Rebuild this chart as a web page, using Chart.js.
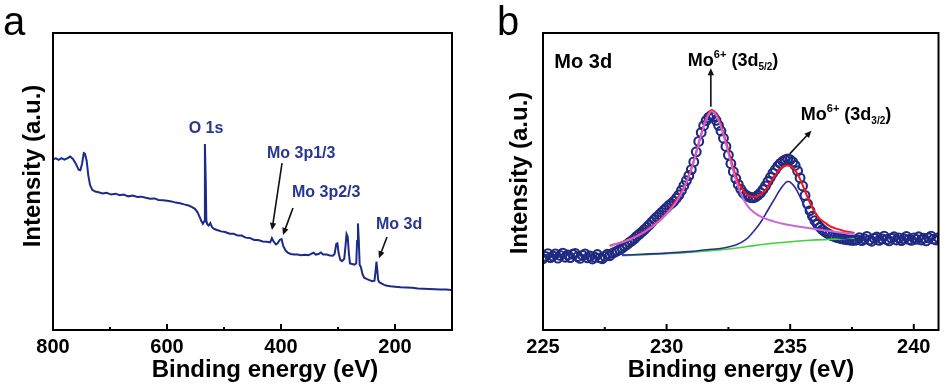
<!DOCTYPE html>
<html>
<head>
<meta charset="utf-8">
<script src="https://cdn.jsdelivr.net/npm/chart.js@4.4.0/dist/chart.umd.min.js"></script>
<style>
  html, body { margin: 0; padding: 0; background: #fff; }
  #wrap { position: relative; width: 945px; height: 387px; overflow: hidden; }
  canvas { position: absolute; top: 0; }
  #chartA { left: 0; }
  #chartB { left: 475px; }
</style>
</head>
<body>
<div id="wrap">
  <canvas id="chartA" width="475" height="387"></canvas>
  <canvas id="chartB" width="470" height="387"></canvas>
</div>
<script>
// ---- panel a : survey spectrum ----
const surveyTicks = [800, 700, 600, 500, 400, 300, 200];
const surveyEnergy = [
  800, 795, 790, 785, 780, 775, 770, 765, 760, 755, 752, 749, 746, 744, 741, 738, 735, 731, 726, 720,
  713, 706, 698, 690, 683, 676, 668, 660, 652, 645, 637, 630, 622, 615, 607, 600, 592, 585, 577, 570,
  562, 556, 551, 547, 543, 540, 537, 535, 533.5, 532, 531, 529.5, 527, 524, 521, 517, 511, 505, 498, 490,
  483, 476, 469, 462, 455, 447, 440, 432, 425, 419, 416, 413, 409, 406, 402, 399, 396, 392, 388, 383,
  377, 371, 365, 358, 352, 347, 343, 339, 334, 330, 326, 320, 314, 309, 306, 303, 301, 299, 296, 293,
  289, 287, 285, 283, 281, 279, 275, 271, 268, 266.5, 265, 263.5, 262, 260, 257, 254, 250, 245, 240, 236,
  234, 232.5, 231, 229.5, 227, 223, 219, 214, 208, 200, 190, 180, 170, 160, 150, 140, 130, 120, 110, 101
];
const surveyIntensity = [
  57.5, 57.8, 57.3, 57.9, 57.4, 57.8, 58.4, 57.6, 56.0, 54.0, 53.8, 56.0, 59.6, 59.4, 57.0, 52.0, 48.8, 47.2, 46.6, 46.4,
  46.0, 46.2, 45.6, 45.9, 45.4, 45.6, 45.0, 45.3, 44.8, 44.9, 44.5, 44.2, 44.3, 43.8, 43.7, 43.5, 43.3, 42.9, 42.7, 42.3,
  41.9, 41.4, 40.8, 39.8, 38.2, 36.8, 35.8, 36.5, 62.6, 50.0, 37.0, 35.6, 35.2, 36.0, 34.6, 34.0, 33.6, 33.2, 33.0, 32.4,
  32.4, 31.8, 31.8, 31.1, 31.0, 30.3, 30.3, 29.8, 29.7, 29.5, 30.9, 29.8, 28.8, 29.2, 30.4, 30.6, 28.2, 26.8, 26.0, 25.6,
  25.4, 25.4, 25.2, 25.3, 25.2, 25.6, 26.0, 25.4, 25.6, 26.1, 25.4, 25.4, 25.1, 25.0, 25.6, 29.0, 29.2, 26.0, 23.6, 23.2,
  24.0, 28.0, 32.3, 31.4, 26.0, 22.4, 22.2, 22.0, 22.5, 30.0, 35.9, 30.0, 22.0, 21.3, 18.8, 17.6, 17.2, 16.8, 16.4, 16.6,
  20.0, 23.0, 20.0, 16.8, 16.0, 15.6, 15.2, 14.9, 14.7, 14.6, 14.4, 14.3, 14.2, 14.0, 13.9, 13.8, 13.7, 13.6, 13.6, 13.5
];

// ---- panel b : Mo 3d high-resolution ----
const moTicks = [225, 227.5, 230, 232.5, 235, 237.5, 240];
const moEnergy = [
  225.0, 225.1, 225.2, 225.3, 225.4, 225.5, 225.6, 225.7, 225.8, 225.9,
  226.0, 226.1, 226.2, 226.3, 226.4, 226.5, 226.6, 226.7, 226.8, 226.9,
  227.0, 227.1, 227.2, 227.3, 227.4, 227.5, 227.6, 227.7, 227.8, 227.9,
  228.0, 228.1, 228.2, 228.3, 228.4, 228.5, 228.6, 228.7, 228.8, 228.9,
  229.0, 229.1, 229.2, 229.3, 229.4, 229.5, 229.6, 229.7, 229.8, 229.9,
  230.0, 230.1, 230.2, 230.3, 230.4, 230.5, 230.6, 230.7, 230.8, 230.9,
  231.0, 231.1, 231.2, 231.3, 231.4, 231.5, 231.6, 231.7, 231.8, 231.9,
  232.0, 232.1, 232.2, 232.3, 232.4, 232.5, 232.6, 232.7, 232.8, 232.9,
  233.0, 233.1, 233.2, 233.3, 233.4, 233.5, 233.6, 233.7, 233.8, 233.9,
  234.0, 234.1, 234.2, 234.3, 234.4, 234.5, 234.6, 234.7, 234.8, 234.9,
  235.0, 235.1, 235.2, 235.3, 235.4, 235.5, 235.6, 235.7, 235.8, 235.9,
  236.0, 236.1, 236.2, 236.3, 236.4, 236.5, 236.6, 236.7, 236.8, 236.9,
  237.0, 237.1, 237.2, 237.3, 237.4, 237.5, 237.6, 237.7, 237.8, 237.9,
  238.0, 238.1, 238.2, 238.3, 238.4, 238.5, 238.6, 238.7, 238.8, 238.9,
  239.0, 239.1, 239.2, 239.3, 239.4, 239.5, 239.6, 239.7, 239.8, 239.9,
  240.0, 240.1, 240.2, 240.3, 240.4, 240.5, 240.6, 240.7, 240.8, 240.9,
  241.0
];
const moIntensity = [
  24.0, 24.8, 25.7, 24.4, 24.9, 25.6, 24.2, 25.1, 25.9, 24.5,
  25.3, 24.4, 25.5, 25.8, 24.7, 24.1, 25.1, 25.6, 24.3, 24.9,
  23.9, 24.5, 25.4, 24.3, 24.0, 24.8, 25.5, 25.0, 25.8, 26.2,
  26.6, 27.0, 27.6, 28.2, 28.8, 29.5, 30.1, 30.8, 31.6, 32.3,
  33.0, 33.8, 34.6, 35.4, 36.3, 37.2, 38.0, 38.8, 39.6, 40.4,
  41.2, 42.0, 42.6, 43.4, 44.4, 45.5, 47.0, 48.6, 50.3, 52.0,
  54.0, 56.6, 60.0, 63.5, 66.5, 68.8, 70.5, 71.6, 72.2, 71.8,
  70.6, 68.9, 67.0, 64.6, 61.8, 58.9, 56.0, 53.3, 51.0, 49.0,
  47.4, 46.2, 45.4, 45.0, 44.6, 44.5, 44.8, 45.4, 46.2, 47.3,
  48.5, 50.0, 51.4, 52.8, 54.0, 55.2, 56.1, 56.8, 57.3, 57.6,
  57.3, 56.6, 55.4, 53.6, 51.2, 48.5, 45.3, 42.5, 40.2, 38.3,
  36.8, 35.6, 34.6, 33.8, 33.1, 32.6, 32.1, 31.7, 31.4, 31.1,
  30.9, 30.7, 30.5, 30.4, 30.3, 30.2, 30.2, 30.4, 31.1, 30.1,
  30.7, 31.5, 30.3, 29.9, 30.9, 31.3, 30.2, 30.7, 31.6, 30.5,
  30.0, 30.9, 31.4, 30.3, 31.0, 30.1, 30.7, 31.5, 30.5, 30.2,
  31.0, 30.5, 31.4, 30.3, 30.9, 30.0, 31.0, 31.6, 30.6, 30.3,
  31.1
];

// fitted components
const fit52Energy = [227.7, 228.0, 228.3, 228.6, 228.9, 229.2, 229.5, 229.8, 230.1, 230.4, 230.7, 231.0, 231.2, 231.4, 231.6, 231.75, 231.85, 232.0, 232.2, 232.4, 232.6, 232.8, 233.0, 233.2, 233.4, 233.7, 234.0, 234.4, 234.8, 235.2, 235.6, 236.0, 236.4, 236.8, 237.2, 237.6];
const fit52Value  = [28.3, 29.0, 29.8, 30.8, 32.0, 33.5, 35.3, 37.4, 40.0, 43.2, 47.6, 54.0, 59.6, 65.6, 70.8, 73.2, 73.6, 72.4, 68.4, 62.6, 56.4, 50.6, 46.0, 42.7, 40.6, 38.7, 37.5, 36.4, 35.6, 35.0, 34.5, 34.0, 33.5, 33.1, 32.7, 32.4];

const envelopeEnergy = [227.7, 228.3, 228.9, 229.5, 230.1, 230.7, 231.0, 231.2, 231.4, 231.6, 231.75, 231.85, 232.0, 232.2, 232.4, 232.6, 232.8, 233.0, 233.2, 233.4, 233.6, 233.8, 234.0, 234.2, 234.4, 234.6, 234.8, 234.9, 235.0, 235.2, 235.4, 235.6, 235.8, 236.0, 236.2, 236.4, 236.6, 236.8, 237.0, 237.2, 237.4, 237.6];
const envelopeValue  = [28.4, 29.9, 32.2, 35.6, 40.4, 48.0, 54.4, 60.0, 66.0, 71.2, 73.6, 74.0, 72.9, 69.0, 63.4, 57.4, 52.0, 48.2, 46.0, 45.0, 44.9, 45.6, 47.2, 49.6, 52.2, 54.2, 55.3, 55.4, 55.2, 53.8, 50.8, 46.8, 42.8, 39.6, 37.4, 36.2, 35.0, 34.3, 33.8, 33.3, 33.0, 32.7];

const fit32Energy = [228.2, 229.0, 230.0, 230.9, 231.6, 232.3, 232.8, 233.2, 233.5, 233.8, 234.1, 234.4, 234.6, 234.8, 234.9, 235.0, 235.2, 235.4, 235.6, 235.8, 236.0, 236.2, 236.5, 236.8, 237.2, 237.6];
const fit32Value  = [25.2, 25.5, 25.9, 26.4, 27.0, 27.6, 28.6, 30.4, 33.0, 36.2, 40.4, 44.6, 47.4, 49.5, 50.0, 49.8, 48.0, 44.8, 41.2, 37.8, 35.2, 33.6, 32.2, 31.4, 30.7, 30.4];

const bgEnergy = [228.2, 229.0, 230.0, 231.0, 232.0, 233.0, 233.6, 234.2, 235.0, 235.8, 236.6, 237.6];
const bgValue  = [25.0, 25.3, 25.7, 26.2, 26.9, 27.8, 28.5, 29.1, 29.7, 30.2, 30.5, 30.8];

const FONT = 'Arial, "Liberation Sans", Helvetica, sans-serif';

function pairs(xs, ys) {
  return xs.map((x, i) => ({ x: x, y: ys[i] }));
}

function arrow(ctx, x1, y1, x2, y2) {
  const a = Math.atan2(y2 - y1, x2 - x1);
  const head = 7, half = 3.2;
  ctx.beginPath();
  ctx.moveTo(x1, y1);
  ctx.lineTo(x2 - Math.cos(a) * head * 0.7, y2 - Math.sin(a) * head * 0.7);
  ctx.stroke();
  ctx.beginPath();
  ctx.moveTo(x2, y2);
  ctx.lineTo(x2 - head * Math.cos(a) + half * Math.sin(a), y2 - head * Math.sin(a) - half * Math.cos(a));
  ctx.lineTo(x2 - head * Math.cos(a) - half * Math.sin(a), y2 - head * Math.sin(a) + half * Math.cos(a));
  ctx.closePath();
  ctx.fill();
}

// parts: [text, fontSize, yOffset]
function richText(ctx, x, y, parts) {
  ctx.textAlign = 'left';
  ctx.textBaseline = 'alphabetic';
  parts.forEach(p => {
    ctx.font = 'bold ' + p[1] + 'px ' + FONT;
    ctx.fillText(p[0], x, y + p[2]);
    x += ctx.measureText(p[0]).width;
  });
}

// frame, inner ticks, axis titles, panel letter, labels and arrows
const decor = {
  id: 'decor',
  afterDraw(chart, args, opts) {
    const { ctx, chartArea: ca, scales: { x, y } } = chart;
    ctx.save();
    ctx.strokeStyle = '#000';
    ctx.lineWidth = 2;
    x.ticks.forEach(t => {
      if (t.value === x.min || t.value === x.max) return;
      const px = x.getPixelForValue(t.value);
      const len = t.label !== '' ? 6 : 3;
      ctx.beginPath();
      ctx.moveTo(px, ca.bottom);
      ctx.lineTo(px, ca.bottom - len);
      ctx.stroke();
    });
    ctx.strokeRect(ca.left, ca.top, ca.right - ca.left, ca.bottom - ca.top);

    ctx.fillStyle = '#000';
    ctx.textAlign = 'center';
    ctx.textBaseline = 'alphabetic';
    ctx.font = 'bold 24px ' + FONT;
    ctx.fillText('Binding energy (eV)', opts.xTitle[0], opts.xTitle[1]);
    ctx.save();
    ctx.translate(opts.yTitle[0], opts.yTitle[1]);
    ctx.rotate(-Math.PI / 2);
    ctx.font = 'bold 24px ' + FONT;
    ctx.fillText('Intensity (a.u.)', 0, 0);
    ctx.restore();

    ctx.textAlign = 'left';
    ctx.font = '40px ' + FONT;
    ctx.fillText(opts.letter[0], opts.letter[1], opts.letter[2]);

    opts.labels.forEach(l => {
      ctx.fillStyle = l.color;
      const px = x.getPixelForValue(l.x), py = y.getPixelForValue(l.y);
      if (l.center) {
        ctx.font = 'bold ' + l.parts[0][1] + 'px ' + FONT;
        ctx.textAlign = 'center';
        ctx.fillText(l.parts[0][0], px, py);
      } else {
        richText(ctx, px, py, l.parts);
      }
    });

    ctx.strokeStyle = '#111';
    ctx.fillStyle = '#111';
    ctx.lineWidth = 1.6;
    opts.arrows.forEach(a => {
      arrow(ctx, x.getPixelForValue(a[0]), y.getPixelForValue(a[1]),
                 x.getPixelForValue(a[2]), y.getPixelForValue(a[3]));
    });
    ctx.restore();
  }
};

function baseOptions(xOpts, yWidth, rightPad, decorOpts) {
  return {
    responsive: false,
    animation: false,
    events: [],
    layout: { padding: { left: 0, top: 33, right: rightPad, bottom: 0 } },
    plugins: { legend: { display: false }, tooltip: { enabled: false }, decor: decorOpts },
    scales: {
      x: Object.assign({
        type: 'linear',
        afterFit: s => { s.height = 57; },
        afterBuildTicks: s => { s.ticks = xOpts.tickValues.map(v => ({ value: v })); },
        grid: { display: false, drawTicks: false },
        border: { display: false },
        ticks: {
          autoSkip: false, maxRotation: 0, padding: 5, color: '#000',
          font: { family: FONT, size: 20, weight: 'bold' },
          callback: v => (xOpts.labelled.includes(v) ? String(v) : '')
        }
      }, xOpts.axis),
      y: {
        type: 'linear', min: 0, max: 100,
        afterFit: s => { s.width = yWidth; },
        ticks: { display: false },
        grid: { display: false },
        border: { display: false }
      }
    }
  };
}

const blueText = '#283593';

new Chart(document.getElementById('chartA'), {
  type: 'scatter',
  data: {
    datasets: [{
      data: pairs(surveyEnergy, surveyIntensity),
      showLine: true, borderColor: '#1c2a8c', borderWidth: 2, pointRadius: 0, tension: 0
    }]
  },
  options: baseOptions(
    {
      axis: { reverse: true, min: 100, max: 800 },
      tickValues: surveyTicks,
      labelled: [800, 600, 400, 200]
    },
    53, 23,
    {
      xTitle: [265, 377], yTitle: [40, 166], letter: ['a', 3, 35],
      labels: [
        { parts: [['O 1s', 16, 0]], x: 531.6, y: 66.3, color: blueText, center: true },
        { parts: [['Mo 3p1/3', 16, 0]], x: 424.6, y: 57.8, color: blueText },
        { parts: [['Mo 3p2/3', 16, 0]], x: 380.7, y: 44.9, color: blueText },
        { parts: [['Mo 3d', 16, 0]], x: 233.3, y: 33.9, color: blueText }
      ],
      arrows: [
        [398.2, 56.2, 415.8, 33.7],
        [379.0, 41.1, 396.5, 32.0],
        [214.0, 31.3, 228.1, 24.2]
      ]
    }
  ),
  plugins: [decor]
});

new Chart(document.getElementById('chartB'), {
  type: 'scatter',
  data: {
    datasets: [
      { data: pairs(fit52Energy, fit52Value), showLine: true, borderColor: '#c965d6', borderWidth: 2, pointRadius: 0, tension: 0.4 },
      { data: pairs(envelopeEnergy, envelopeValue), showLine: true, borderColor: '#ff1414', borderWidth: 2, pointRadius: 0, tension: 0.4 },
      { data: pairs(fit32Energy, fit32Value), showLine: true, borderColor: '#2a2c9c', borderWidth: 1.6, pointRadius: 0, tension: 0.4 },
      { data: pairs(bgEnergy, bgValue), showLine: true, borderColor: '#3fd33a', borderWidth: 1.6, pointRadius: 0, tension: 0.4 },
      {
        data: pairs(moEnergy, moIntensity), showLine: false,
        pointRadius: 4.4, pointBorderWidth: 2.1, pointStyle: 'circle',
        pointBorderColor: '#1f2a80', pointBackgroundColor: 'rgba(255,255,255,0)'
      }
    ]
  },
  options: baseOptions(
    {
      axis: { min: 225, max: 241 },
      tickValues: moTicks,
      labelled: [225, 230, 235, 240]
    },
    68, 6,
    {
      xTitle: [266, 377], yTitle: [52, 173], letter: ['b', 22, 35],
      labels: [
        { parts: [['Mo 3d', 20, 0]], x: 225.46, y: 88.3, color: '#000' },
        { parts: [['Mo', 18, 0], ['6+', 11, -8], [' (3d', 18, 0], ['5/2', 10, 4], [')', 18, 0]], x: 230.86, y: 88.9, color: '#000' },
        { parts: [['Mo', 18, 0], ['6+', 11, -8], [' (3d', 18, 0], ['3/2', 10, 4], [')', 18, 0]], x: 235.43, y: 70.7, color: '#000' }
      ],
      arrows: [
        [231.79, 75.2, 231.79, 88.1],
        [234.98, 59.3, 235.86, 67.1]
      ]
    }
  ),
  plugins: [decor]
});
</script>
</body>
</html>
